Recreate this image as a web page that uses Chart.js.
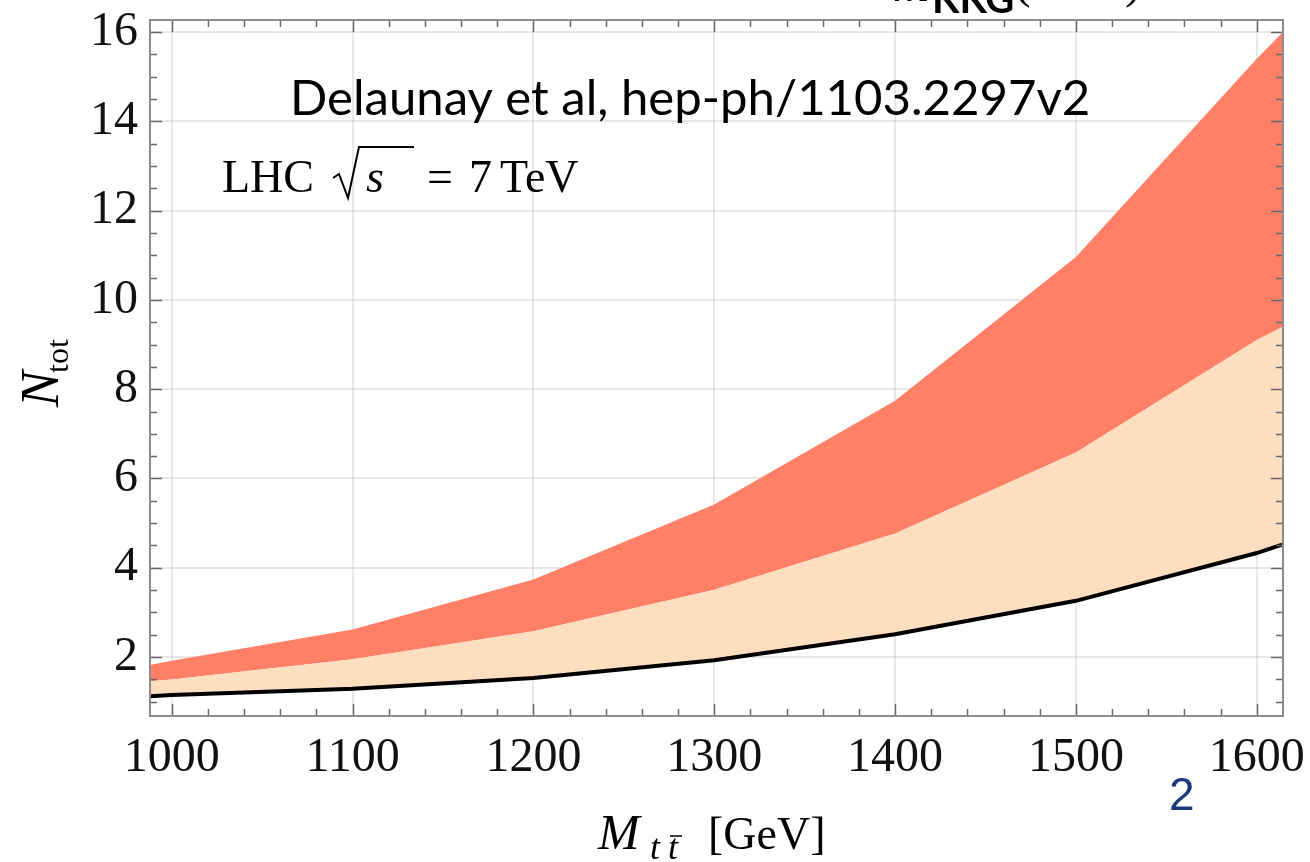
<!DOCTYPE html>
<html>
<head>
<meta charset="utf-8">
<title>N_tot vs M_tt</title>
<script src="https://cdn.jsdelivr.net/npm/chart.js@4.4.1/dist/chart.umd.min.js"></script>
<style>
  html, body { margin: 0; padding: 0; background: #fff; }
  #wrap { position: relative; width: 1310px; height: 862px; }
</style>
</head>
<body>
<div id="wrap"><canvas id="ntotChart" width="1310" height="862"></canvas></div>
<script>
// invariant mass (GeV) and total event counts: lower curve, band edges
const massPoints = [988, 1000, 1100, 1200, 1300, 1400, 1500, 1600, 1614];
const nLower  = [1.12, 1.15, 1.29, 1.53, 1.93, 2.51, 3.26, 4.33, 4.52];
const nMiddle = [1.46, 1.50, 1.95, 2.58, 3.51, 4.77, 6.58, 9.10, 9.39];
const nUpper  = [1.82, 1.92, 2.62, 3.74, 5.42, 7.74, 10.96, 15.40, 15.98];

const xTickLabels = [1000, 1100, 1200, 1300, 1400, 1500, 1600];
const yTickLabels = [2, 4, 6, 8, 10, 12, 14, 16];
const xRange = [988, 1614.5];
const yRange = [0.68, 16.27];

const SERIF = '"Liberation Serif", "Times New Roman", serif';
const SANS = 'Lato, "Open Sans", sans-serif';

function toPoints(ys) {
    return massPoints.map((m, i) => ({ x: m, y: ys[i] }));
}

// keep the plot box fixed: no extra room for overhanging tick labels
function noOverhang(s) {
    s.paddingLeft = 0;
    s.paddingRight = 0;
    s.paddingTop = 0;
    s.paddingBottom = 0;
}

// frame with inward ticks on all four sides, plus the text annotations
const framePlugin = {
    id: 'frame',
    afterDraw(chart) {
        const ctx = chart.ctx;
        const a = chart.chartArea;
        const xs = chart.scales.x;
        const ys = chart.scales.y;
        ctx.save();

        ctx.strokeStyle = '#666';
        ctx.lineWidth = 1.5;
        ctx.beginPath();
        for (let v = 1000; v <= xRange[1]; v += 20) {
            const px = Math.round(xs.getPixelForValue(v)) + 0.5;
            const len = (v % 100 === 0) ? 12 : 7;
            ctx.moveTo(px, a.bottom); ctx.lineTo(px, a.bottom - len);
            ctx.moveTo(px, a.top); ctx.lineTo(px, a.top + len);
        }
        for (let v = 1; v <= yRange[1]; v += 0.5) {
            if (v < yRange[0]) continue;
            const py = Math.round(ys.getPixelForValue(v)) + 0.5;
            const len = (v % 2 === 0) ? 12 : 7;
            ctx.moveTo(a.left, py); ctx.lineTo(a.left + len, py);
            ctx.moveTo(a.right, py); ctx.lineTo(a.right - len, py);
        }
        ctx.stroke();

        ctx.strokeStyle = '#8c8c8c';
        ctx.lineWidth = 2;
        ctx.strokeRect(a.left, a.top, a.right - a.left, a.bottom - a.top);

        ctx.fillStyle = '#000';
        ctx.textBaseline = 'alphabetic';
        ctx.textAlign = 'left';

        // citation line
        ctx.font = '48px ' + SANS;
        const cite = 'Delaunay et al, hep-ph/1103.2297v2';
        const w = ctx.measureText(cite).width;
        const size = 48 * 800 / w;
        ctx.font = size.toFixed(1) + 'px ' + SANS;
        ctx.fillText(cite, 290, 115);

        // LHC sqrt(s) = 7 TeV
        ctx.font = '46px ' + SERIF;
        ctx.fillText('LHC', 222, 192);
        ctx.strokeStyle = '#000';
        ctx.lineWidth = 2;
        ctx.lineJoin = 'miter';
        ctx.beginPath();
        ctx.moveTo(333, 178);
        ctx.lineTo(339, 174);
        ctx.lineTo(348, 198);
        ctx.lineTo(359, 147);
        ctx.lineTo(414, 147);
        ctx.stroke();
        ctx.font = 'italic 46px ' + SERIF;
        ctx.fillText('s', 366, 192);
        ctx.font = '46px ' + SERIF;
        ctx.fillText('=', 427, 192);
        ctx.fillText('7', 469, 192);
        ctx.fillText('TeV', 500, 192);

        // y axis title
        ctx.save();
        ctx.translate(58, 407);
        ctx.rotate(-Math.PI / 2);
        ctx.font = 'italic 54px ' + SERIF;
        ctx.fillText('N', 0, 0);
        const nW = ctx.measureText('N').width;
        ctx.font = '32px ' + SERIF;
        ctx.fillText('tot', nW - 2, 10);
        ctx.restore();

        // x axis title
        ctx.font = 'italic 50px ' + SERIF;
        ctx.fillText('M', 598, 849);
        ctx.font = 'italic 36px ' + SERIF;
        ctx.fillText('t', 650, 859);
        ctx.fillText('t', 668, 859);
        ctx.lineWidth = 1.5;
        ctx.beginPath();
        ctx.moveTo(670, 836); ctx.lineTo(682, 836);
        ctx.stroke();
        ctx.font = '46px ' + SERIF;
        ctx.fillText('[GeV]', 708, 849);

        // clipped title from above the panel
        ctx.font = 'italic 50px ' + SERIF;
        ctx.fillText('m', 893, 1);
        ctx.font = 'bold 40px ' + SANS;
        ctx.fillText('KKG', 932, 13);
        ctx.font = '50px ' + SERIF;
        ctx.fillText('(GeV)', 1014, -3);

        // page number
        ctx.fillStyle = '#1c3a7a';
        ctx.font = '46px "Liberation Sans", Arial, sans-serif';
        ctx.fillText('2', 1169, 810);

        ctx.restore();
    }
};

const ctx = document.getElementById('ntotChart');
new Chart(ctx, {
    type: 'line',
    data: {
        datasets: [
            {
                label: 'lower',
                data: toPoints(nLower),
                borderColor: '#000',
                borderWidth: 4,
                fill: false
            },
            {
                label: 'middle',
                data: toPoints(nMiddle),
                borderColor: 'transparent',
                borderWidth: 0,
                backgroundColor: '#fddebf',
                fill: 0
            },
            {
                label: 'upper',
                data: toPoints(nUpper),
                borderColor: 'transparent',
                borderWidth: 0,
                backgroundColor: '#ff7f67',
                fill: 1
            }
        ]
    },
    options: {
        responsive: false,
        animation: false,
        devicePixelRatio: 1,
        layout: { padding: { top: 20, right: 27, left: 0, bottom: 0 } },
        elements: { point: { radius: 0 }, line: { tension: 0 } },
        plugins: { legend: { display: false }, tooltip: { enabled: false } },
        scales: {
            x: {
                type: 'linear',
                min: xRange[0],
                max: xRange[1],
                z: 1,
                afterBuildTicks: s => { s.ticks = xTickLabels.map(v => ({ value: v })); },
                afterFit: s => { s.height = 146; noOverhang(s); },
                grid: { color: 'rgba(0,0,0,0.09)', lineWidth: 2, drawTicks: false },
                border: { display: false },
                ticks: {
                    autoSkip: false,
                    maxRotation: 0,
                    padding: 14,
                    color: '#111',
                    font: { family: SERIF, size: 48 },
                    callback: v => String(v)
                }
            },
            y: {
                type: 'linear',
                min: yRange[0],
                max: yRange[1],
                z: 1,
                afterBuildTicks: s => { s.ticks = yTickLabels.map(v => ({ value: v })); },
                afterFit: s => { s.width = 150; noOverhang(s); },
                grid: { color: 'rgba(0,0,0,0.09)', lineWidth: 2, drawTicks: false },
                border: { display: false },
                ticks: {
                    autoSkip: false,
                    padding: 12,
                    color: '#111',
                    font: { family: SERIF, size: 48 },
                    callback: v => String(v)
                }
            }
        }
    },
    plugins: [framePlugin]
});
</script>
</body>
</html>
